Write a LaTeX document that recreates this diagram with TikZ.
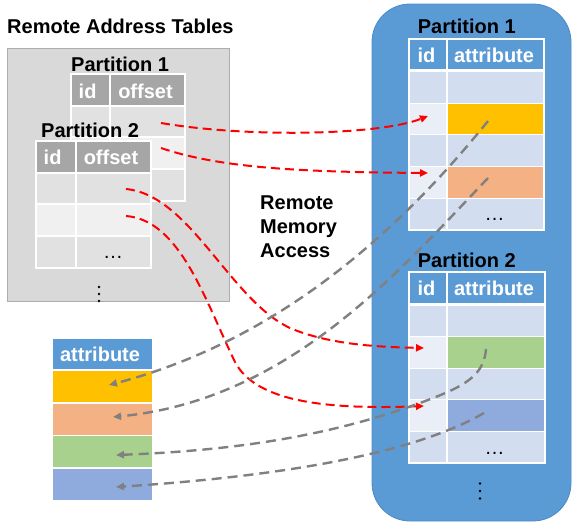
\documentclass[tikz,border=0pt]{standalone}
\usepackage{fontspec}
\setmainfont{Liberation Sans}
\usetikzlibrary{arrows.meta}

\definecolor{boxgray}{HTML}{D9D9D9}
\definecolor{boxedge}{HTML}{ADADAD}
\definecolor{hdrgray}{HTML}{A6A6A6}
\definecolor{rowgrayA}{HTML}{E1E1E1}
\definecolor{rowgrayB}{HTML}{F0F0F0}
\definecolor{accblue}{HTML}{5B9BD5}
\definecolor{accedge}{HTML}{4D8AC4}
\definecolor{rowblueA}{HTML}{D2DEEF}
\definecolor{rowblueB}{HTML}{EAEFF7}
\definecolor{attrorange}{HTML}{FFC000}
\definecolor{attrsalmon}{HTML}{F4B183}
\definecolor{attrgreen}{HTML}{A9D18E}
\definecolor{attrblue}{HTML}{8FAADC}
\definecolor{linkred}{HTML}{FF0000}
\definecolor{linkgray}{HTML}{808080}

% a table cell given by its corner coordinates
\newcommand\tcell[6]{%
  \pgfmathsetmacro\cellw{#4-#2}\pgfmathsetmacro\cellh{#5-#3}%
  \node[cellbox, fill=#6, minimum width=\cellw pt, minimum height=\cellh pt]
    (#1) at ({(#2+#4)/2},{(#3+#5)/2}) {};}

\begin{document}
\begin{tikzpicture}[x=1pt, y=-1pt,
  cellbox/.style={rectangle, draw=white, line width=1.1pt, inner sep=0pt, outer sep=0pt},
  bigtext/.style={font=\fontsize{20}{24}\selectfont\bfseries, inner sep=0pt, anchor=base west},
  hdrtext/.style={font=\fontsize{20}{24}\selectfont\bfseries, text=white, inner sep=0pt, anchor=base},
  dotstext/.style={font=\fontsize{20}{24}\selectfont, inner sep=0pt, anchor=base},
  redlink/.style={draw=linkred, line width=2pt, dash pattern=on 9pt off 5pt,
    -{Triangle[length=8pt,width=7pt]}},
  graylink/.style={draw=linkgray, line width=2.4pt, dash pattern=on 10pt off 6pt,
    -{Triangle[length=8pt,width=7pt]}},
  vdot/.style={circle, fill=black, inner sep=0pt, minimum size=2.6pt}]

\useasboundingbox (0,0) rectangle (573,523);

% ---------- remote address tables ----------
\node[bigtext] (ratitle) at (7,33) {Remote Address Tables};
\node[rectangle, draw=boxedge, fill=boxgray, line width=1pt, minimum width=222pt,
  minimum height=253pt, inner sep=0pt] (rabox) at (118,174.5) {};

% partition 1 address table
\node[bigtext] (lp1title) at (71,71) {Partition 1};
\tcell{lpa-h1}{71}{74}{110}{105.5}{hdrgray}
\tcell{lpa-h2}{110}{74}{185}{105.5}{hdrgray}
\foreach \i/\ya/\yb/\c in {1/106.5/137/rowgrayA, 2/137/169/rowgrayB, 3/169/201/rowgrayA}{
  \tcell{lpa-id-\i}{71}{\ya}{110}{\yb}{\c}
  \tcell{lpa-of-\i}{110}{\ya}{185}{\yb}{\c}
}
\draw[white, line width=2pt] (lpa-h1.south west) -- (lpa-h2.south east);
\node[hdrtext] (lpa-t1) at (87.6,98) {id};
\node[hdrtext] (lpa-t2) at (145.5,98) {offset};

% partition 2 address table
\node[bigtext] (lp2title) at (41,137) {Partition 2};
\tcell{lpb-h1}{36}{141}{76}{172.5}{hdrgray}
\tcell{lpb-h2}{76}{141}{151}{172.5}{hdrgray}
\foreach \i/\ya/\yb/\c in {1/173.5/204/rowgrayA, 2/204/236/rowgrayB, 3/236/268/rowgrayA}{
  \tcell{lpb-id-\i}{36}{\ya}{76}{\yb}{\c}
  \tcell{lpb-of-\i}{76}{\ya}{151}{\yb}{\c}
}
\draw[white, line width=2pt] (lpb-h1.south west) -- (lpb-h2.south east);
\node[hdrtext] (lpb-t1) at (52.6,164) {id};
\node[hdrtext] (lpb-t2) at (111,164) {offset};
\node[dotstext] (lpb-dots) at (113,258) {…};

\node[vdot] (lvd1) at (99,287) {};
\node[vdot] (lvd2) at (99,294) {};
\node[vdot] (lvd3) at (99,301) {};

% ---------- remote memory access label ----------
\node[bigtext] (rma1) at (260,209) {Remote};
\node[bigtext] (rma2) at (260,233) {Memory};
\node[bigtext] (rma3) at (260,257) {Access};

% ---------- local attribute column ----------
\tcell{la-h}{52}{338}{153}{369.5}{accblue}
\tcell{la-1}{52}{370.5}{153}{403}{attrorange}
\tcell{la-2}{52}{403}{153}{435.5}{attrsalmon}
\tcell{la-3}{52}{435.5}{153}{468}{attrgreen}
\tcell{la-4}{52}{468}{153}{500.5}{attrblue}
\node[hdrtext] (la-t) at (100,361.7) {attribute};

% ---------- remote partitions ----------
\draw[fill=accblue, draw=accedge, line width=0.8pt, rounded corners=38pt]
  (372,4) rectangle (571,521);

% partition 1 attribute table
\node[bigtext] (rp1title) at (417.7,33.3) {Partition 1};
\tcell{rpa-h1}{409}{39}{447}{70.5}{accblue}
\tcell{rpa-h2}{447}{39}{544}{70.5}{accblue}
\foreach \i/\ya/\yb/\ci/\ca in {1/71.5/103.2/rowblueA/rowblueA,
    2/103.2/134.9/rowblueB/attrorange, 3/134.9/166.6/rowblueA/rowblueA,
    4/166.6/198.3/rowblueB/attrsalmon, 5/198.3/230/rowblueA/rowblueA}{
  \tcell{rpa-id-\i}{409}{\ya}{447}{\yb}{\ci}
  \tcell{rpa-at-\i}{447}{\ya}{544}{\yb}{\ca}
}
\draw[white, line width=2.2pt] (rpa-h1.south west) -- (rpa-h2.south east);
\node[hdrtext] (rpa-t1) at (426.5,62.7) {id};
\node[hdrtext] (rpa-t2) at (494,62.7) {attribute};
\node[dotstext] (rpa-dots) at (494.5,220) {…};

% partition 2 attribute table
\node[bigtext] (rp2title) at (417.7,267.3) {Partition 2};
\tcell{rpb-h1}{409}{272}{447}{304}{accblue}
\tcell{rpb-h2}{447}{272}{545}{304}{accblue}
\foreach \i/\ya/\yb/\ci/\ca in {1/305/336.6/rowblueA/rowblueA,
    2/336.6/368.2/rowblueB/attrgreen, 3/368.2/399.8/rowblueA/rowblueA,
    4/399.8/431.4/rowblueB/attrblue, 5/431.4/463/rowblueA/rowblueA}{
  \tcell{rpb-id-\i}{409}{\ya}{447}{\yb}{\ci}
  \tcell{rpb-at-\i}{447}{\ya}{545}{\yb}{\ca}
}
\draw[white, line width=2.2pt] (rpb-h1.south west) -- (rpb-h2.south east);
\node[hdrtext] (rpb-t1) at (426.5,295.7) {id};
\node[hdrtext] (rpb-t2) at (494,295.7) {attribute};
\node[dotstext] (rpb-dots) at (494.5,454) {…};

\node[vdot] (rvd1) at (480,483.5) {};
\node[vdot] (rvd2) at (480,491) {};
\node[vdot] (rvd3) at (480,498.5) {};

% ---------- connector end points ----------
\coordinate (ra1) at (161,123);   \coordinate (ta1) at (428,116);
\coordinate (ra2) at (161,148);   \coordinate (ta2) at (428,173);
\coordinate (rb1) at (126,189);   \coordinate (tb1) at (424,348);
\coordinate (rb2) at (126,216);   \coordinate (tb2) at (424,406);
\coordinate (ga1) at (488,121);   \coordinate (la1) at (109,385);
\coordinate (ga2) at (488,178);   \coordinate (la2) at (113,417);
\coordinate (gb1) at (486,349);   \coordinate (la3) at (116,455);
\coordinate (gb2) at (484,413);   \coordinate (la4) at (116,487);

% remote reads of the address tables
\draw[redlink] (ra1) .. controls (250,138) and (380,135) .. (ta1);
\draw[redlink] (ra2) .. controls (220,168) and (300,172) .. (ta2);
\draw[redlink] (rb1) .. controls (190,195) and (230,300) .. (290,328)
                     .. controls (330,345) and (380,347) .. (tb1);
\draw[redlink] (rb2) .. controls (180,220) and (205,300) .. (235,362)
                     .. controls (255,400) and (320,410) .. (tb2);

% attributes fetched back into the local column
\draw[graylink] (ga1) .. controls (400,230) and (280,340) .. (la1);
\draw[graylink] (ga2) .. controls (400,270) and (290,400) .. (la2);
\draw[graylink] (gb1) .. controls (484,378) and (460,388) .. (420,403)
                      .. controls (340,432) and (250,450) .. (la3);
\draw[graylink] (gb2) .. controls (420,450) and (300,475) .. (la4);

\end{tikzpicture}
\end{document}
